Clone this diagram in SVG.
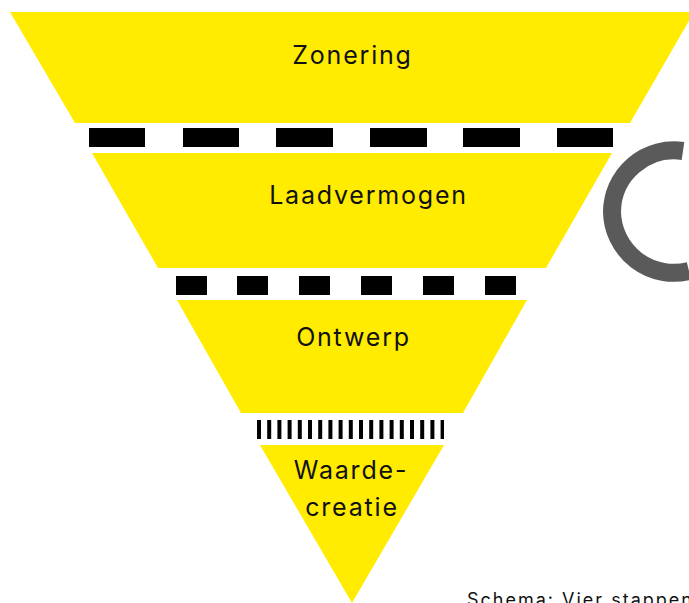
<svg xmlns="http://www.w3.org/2000/svg" width="689" height="603" viewBox="0 0 689 603">
<style>
.seg{fill:#FFEC00}
.lbl{font-family:Inter,"Liberation Sans",sans-serif;font-size:25px;fill:#111;text-anchor:middle;letter-spacing:1.8px}
.dash{fill:#000}
</style>
<rect width="689" height="603" fill="#fff"/>
<g id="zonering">
<polygon class="seg" points="10,12 694,12 630,123 75,123"/>
<text class="lbl" x="352.5" y="64">Zonering</text>
</g>
<g id="laadvermogen">
<polygon class="seg" points="92,153 612,153 546,268 158,268"/>
<text class="lbl" x="368.5" y="204">Laadvermogen</text>
</g>
<g id="ontwerp">
<polygon class="seg" points="177,300 527,300 463,413 241,413"/>
<text class="lbl" x="353.5" y="346">Ontwerp</text>
</g>
<g id="waardecreatie">
<polygon class="seg" points="260,445 444,445 352,603"/>
<text class="lbl" x="351" y="479">Waarde-</text>
<text class="lbl" x="352" y="516">creatie</text>
</g>
<g id="connectors">
<g class="dash">
<rect x="89" y="128" width="56" height="19"/>
<rect x="183" y="128" width="56" height="19"/>
<rect x="276" y="128" width="57" height="19"/>
<rect x="370" y="128" width="57" height="19"/>
<rect x="463" y="128" width="57" height="19"/>
<rect x="557" y="128" width="56" height="19"/>
<rect x="176" y="276" width="31" height="19"/>
<rect x="237" y="276" width="31" height="19"/>
<rect x="299" y="276" width="31" height="19"/>
<rect x="361" y="276" width="31" height="19"/>
<rect x="423" y="276" width="31" height="19"/>
<rect x="485" y="276" width="31" height="19"/>
</g>
<line x1="257" y1="429.5" x2="444" y2="429.5" stroke="#000" stroke-width="19" stroke-dasharray="4 6.2"/>
</g>
<path d="M683,151 A62,62 0 0 0 612,212 A62,62 0 0 0 689,271" fill="none" stroke="#5a5a5a" stroke-width="18"/>
<text x="467" y="606" font-family="Inter,'Liberation Sans',sans-serif" font-size="18" letter-spacing="2" fill="#111">Schema: Vier stappen</text>
</svg>
